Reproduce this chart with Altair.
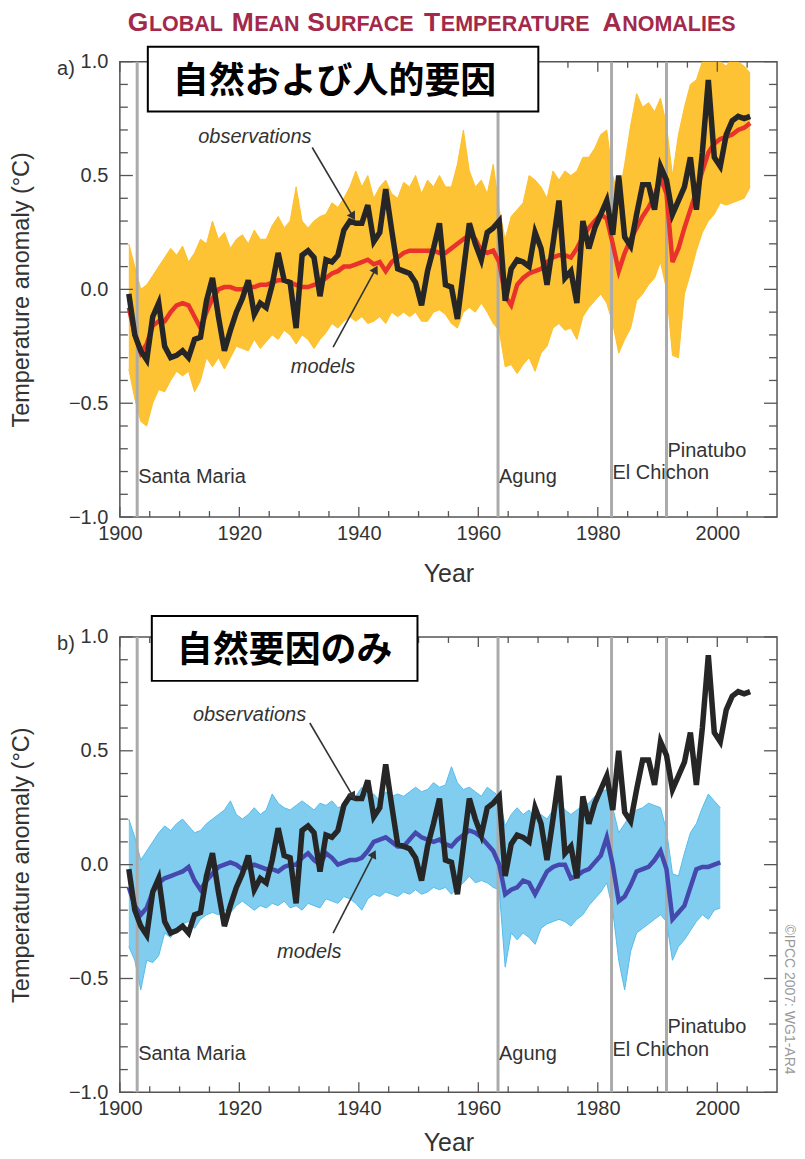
import math
import altair as alt
import pandas as pd

# ---------------- data ----------------
years_a = list(range(1901, 2006))
obs = [
    -0.02, -0.20, -0.27, -0.31, -0.12, -0.06, -0.25, -0.30, -0.29, -0.27,
    -0.30, -0.22, -0.21, -0.05, 0.05, -0.12, -0.27, -0.18, -0.10, -0.04,
    0.04, -0.11, -0.06, -0.08, 0.02, 0.16, 0.04, 0.03, -0.17, 0.15,
    0.17, 0.14, -0.03, 0.13, 0.12, 0.15, 0.26, 0.30, 0.29, 0.29,
    0.37, 0.21, 0.25, 0.44, 0.26, 0.09, 0.08, 0.07, 0.03, -0.07,
    0.08, 0.18, 0.29, 0.02, 0.01, -0.13, 0.08, 0.29, 0.20, 0.13,
    0.25, 0.27, 0.30, -0.05, 0.09, 0.13, 0.12, 0.10, 0.25, 0.18,
    0.02, 0.20, 0.39, 0.05, 0.08, -0.06, 0.30, 0.18, 0.27, 0.33,
    0.39, 0.24, 0.50, 0.23, 0.19, 0.33, 0.46, 0.46, 0.35, 0.54,
    0.48, 0.33, 0.39, 0.45, 0.58, 0.35, 0.60, 0.92, 0.58, 0.54,
    0.68, 0.74, 0.76, 0.75, 0.76,
]
mean_a = [
    -0.08, -0.20, -0.28, -0.24, -0.16, -0.14, -0.14, -0.10, -0.07, -0.06,
    -0.07, -0.12, -0.17, -0.10, -0.04, 0.00, 0.01, 0.01, 0.00, 0.00,
    0.01, 0.01, 0.02, 0.02, 0.03, 0.04, 0.04, 0.03, 0.02, 0.01,
    0.01, 0.02, 0.03, 0.05, 0.07, 0.08, 0.10, 0.10, 0.11, 0.12,
    0.13, 0.11, 0.12, 0.08, 0.12, 0.14, 0.16, 0.17, 0.17, 0.17,
    0.17, 0.17, 0.16, 0.16, 0.18, 0.20, 0.22, 0.24, 0.22, 0.17,
    0.16, 0.17, 0.12, -0.03, -0.07, 0.02, 0.05, 0.07, 0.08, 0.09,
    0.12, 0.14, 0.15, 0.15, 0.14, 0.18, 0.23, 0.27, 0.30, 0.33,
    0.31, 0.20, 0.08, 0.16, 0.22, 0.27, 0.32, 0.36, 0.41, 0.49,
    0.42, 0.12, 0.18, 0.27, 0.35, 0.43, 0.52, 0.60, 0.64, 0.66,
    0.67, 0.68, 0.70, 0.71, 0.73,
]
upper_a = [
    0.20, 0.10, 0.00, 0.02, 0.06, 0.10, 0.14, 0.18, 0.15, 0.19,
    0.12, 0.16, 0.22, 0.20, 0.30, 0.22, 0.25, 0.18, 0.22, 0.24,
    0.20, 0.26, 0.22, 0.22, 0.28, 0.32, 0.27, 0.30, 0.45, 0.30,
    0.27, 0.30, 0.32, 0.33, 0.38, 0.36, 0.40, 0.45, 0.52, 0.45,
    0.50, 0.40, 0.45, 0.48, 0.42, 0.40, 0.47, 0.45, 0.50, 0.42,
    0.48, 0.45, 0.50, 0.45, 0.45, 0.55, 0.70, 0.52, 0.45, 0.48,
    0.42, 0.55, 0.35, 0.22, 0.32, 0.35, 0.38, 0.50, 0.48, 0.45,
    0.40, 0.52, 0.48, 0.52, 0.50, 0.52, 0.58, 0.58, 0.62, 0.68,
    0.70, 0.50, 0.40, 0.55, 0.72, 0.86, 0.80, 0.82, 0.78, 0.84,
    0.72, 0.50, 0.68, 0.80, 0.90, 0.92, 1.00, 1.05, 1.02, 1.00,
    0.98, 1.02, 1.00, 0.98, 0.95,
]
lower_a = [
    -0.35, -0.48, -0.58, -0.60, -0.50, -0.44, -0.45, -0.40, -0.36, -0.38,
    -0.36, -0.45, -0.40, -0.30, -0.34, -0.30, -0.35, -0.30, -0.25, -0.26,
    -0.27, -0.22, -0.26, -0.23, -0.20, -0.22, -0.18, -0.20, -0.24, -0.20,
    -0.22, -0.26, -0.22, -0.19, -0.15, -0.17, -0.14, -0.12, -0.14, -0.12,
    -0.15, -0.14, -0.12, -0.15, -0.10, -0.12, -0.10, -0.12, -0.10, -0.14,
    -0.14, -0.10, -0.09, -0.11, -0.15, -0.17, -0.10, -0.08, -0.10, -0.06,
    -0.10, -0.15, -0.18, -0.34, -0.33, -0.37, -0.33, -0.30, -0.36, -0.28,
    -0.25, -0.17, -0.15, -0.18, -0.17, -0.22, -0.12, -0.08, -0.05, -0.02,
    -0.06, -0.15, -0.28, -0.22, -0.17, -0.05, -0.02, 0.02, 0.05, 0.12,
    0.00, -0.29, -0.30, -0.02, 0.07, 0.17, 0.25, 0.30, 0.33, 0.38,
    0.37, 0.38, 0.39, 0.40, 0.45,
]

years_b = list(range(1901, 2001))
mean_b = [
    -0.10, -0.18, -0.22, -0.19, -0.12, -0.08, -0.06, -0.05, -0.04, -0.03,
    -0.01, -0.07, -0.11, -0.07, -0.04, -0.01, 0.00, 0.01, 0.00, -0.02,
    -0.01, 0.00, -0.01, -0.02, -0.02, -0.03, -0.01, 0.00, 0.00, 0.03,
    0.05, 0.02, 0.00, 0.05, 0.03, 0.00, 0.01, 0.02, 0.02, 0.03,
    0.06, 0.10, 0.11, 0.12, 0.10, 0.08, 0.08, 0.11, 0.14, 0.12,
    0.11, 0.10, 0.11, 0.09, 0.08, 0.11, 0.13, 0.15, 0.14, 0.12,
    0.09, 0.06, 0.00, -0.13, -0.11, -0.10, -0.07, -0.08, -0.13, -0.08,
    -0.03, -0.01, 0.00, 0.00, -0.06, -0.05, -0.03, -0.02, 0.01, 0.04,
    0.12, 0.00, -0.16, -0.14, -0.09, -0.03, -0.02, -0.01, 0.02, 0.06,
    -0.02, -0.24, -0.21, -0.18, -0.10, -0.02, -0.01, -0.01, 0.00, 0.01,
]
upper_b = [
    0.20, 0.12, 0.02, 0.06, 0.10, 0.14, 0.17, 0.15, 0.18, 0.20,
    0.17, 0.14, 0.15, 0.18, 0.20, 0.22, 0.24, 0.28, 0.22, 0.20,
    0.22, 0.25, 0.22, 0.24, 0.31, 0.27, 0.25, 0.24, 0.26, 0.28,
    0.26, 0.24, 0.27, 0.26, 0.28, 0.25, 0.26, 0.28, 0.30, 0.34,
    0.30, 0.31, 0.28, 0.32, 0.30, 0.31, 0.30, 0.32, 0.34, 0.32,
    0.33, 0.36, 0.34, 0.35, 0.43, 0.36, 0.33, 0.34, 0.32, 0.30,
    0.34, 0.32, 0.30, 0.17, 0.22, 0.25, 0.22, 0.24, 0.20, 0.22,
    0.20, 0.24, 0.28, 0.24, 0.22, 0.24, 0.26, 0.27, 0.30, 0.32,
    0.33, 0.25, 0.14, 0.18, 0.22, 0.24, 0.25, 0.27, 0.26, 0.25,
    0.15, -0.04, -0.05, 0.05, 0.14, 0.18, 0.25, 0.31, 0.28, 0.25,
]
lower_b = [
    -0.36, -0.42, -0.55, -0.42, -0.43, -0.40, -0.30, -0.32, -0.28, -0.26,
    -0.25, -0.28, -0.24, -0.22, -0.21, -0.22, -0.20, -0.21, -0.18, -0.16,
    -0.18, -0.20, -0.18, -0.19, -0.17, -0.18, -0.16, -0.19, -0.18, -0.20,
    -0.17, -0.18, -0.19, -0.15, -0.16, -0.17, -0.14, -0.15, -0.17, -0.20,
    -0.15, -0.13, -0.14, -0.12, -0.13, -0.14, -0.12, -0.13, -0.11, -0.13,
    -0.12, -0.10, -0.11, -0.10, -0.13, -0.10, -0.08, -0.05, -0.08, -0.07,
    -0.08, -0.10, -0.11, -0.45, -0.30, -0.33, -0.30, -0.32, -0.35, -0.28,
    -0.26, -0.25, -0.24, -0.25, -0.27, -0.24, -0.22, -0.18, -0.15, -0.12,
    -0.08, -0.20, -0.42, -0.55, -0.38, -0.30, -0.28, -0.26, -0.24, -0.22,
    -0.25, -0.42, -0.36, -0.33, -0.29, -0.25, -0.22, -0.24, -0.20, -0.19,
]

volcano_names = ["Santa Maria", "Agung", "El Chichon", "Pinatubo"]
volcano_years = [1902.9, 1963.3, 1982.3, 1991.5]

x_major = [1900, 1920, 1940, 1960, 1980, 2000]
x_minor = [1905, 1910, 1915, 1925, 1930, 1935, 1945, 1950, 1955,
           1965, 1970, 1975, 1985, 1990, 1995, 2005]
y_major = [-1.0, -0.5, 0.0, 0.5, 1.0]
y_minor = [-0.9, -0.8, -0.7, -0.6, -0.4, -0.3, -0.2, -0.1,
           0.1, 0.2, 0.3, 0.4, 0.6, 0.7, 0.8, 0.9]

title_words = ["GLOBAL", "MEAN", "SURFACE", "TEMPERATURE", "ANOMALIES"]

# ---------------- styling ----------------
W, H = 658, 456
XDOM = [1900, 2010]
YDOM = [-1.0, 1.0]
FONT = "Liberation Sans"
TXT = "#333333"
xs = alt.Scale(domain=XDOM, nice=False, zero=False)
ys = alt.Scale(domain=YDOM, nice=False, zero=False)
PXY = W / (XDOM[1] - XDOM[0])
PXV = H / (YDOM[1] - YDOM[0])


def make_xaxis(title_pad):
    return alt.Axis(values=x_major, format="d", ticks=False, domain=False, grid=False,
                    labelFontSize=20, labelColor=TXT, labelFont=FONT, labelPadding=6,
                    labelFlush=False,
                    title="Year", titleFontSize=25, titleFontWeight="normal",
                    titleColor=TXT, titleFont=FONT, titlePadding=title_pad)


YAXIS = alt.Axis(values=y_major, format=".1f", ticks=False, domain=False, grid=False,
                 labelFontSize=20, labelColor=TXT, labelFont=FONT, labelPadding=12,
                 labelFlush=False,
                 title="Temperature anomaly (°C)", titleFontSize=23.5,
                 titleFontWeight="normal", titleColor=TXT, titleFont=FONT,
                 titlePadding=35)


def panel(years, ens_hi, ens_lo, mean, mean_color, ens_color, ens_opacity,
          label, box, jp_text, jp_pos, obs_lbl, obs_arrow, mod_lbl, mod_arrow,
          volc_lbl_y, xtitle_pad, extra=()):
    xaxis = make_xaxis(xtitle_pad)

    def X(f):
        return alt.X(f, scale=xs, axis=xaxis, title="Year")

    def Y(f):
        return alt.Y(f, scale=ys, axis=YAXIS, title="Temperature anomaly (°C)")

    ens = pd.DataFrame({"year": years, "hi": ens_hi, "lo": ens_lo, "m": mean})
    ens["t"] = ens["year"] + 0.5
    ob = pd.DataFrame({"year": years_a, "v": obs})
    ob["t"] = ob["year"] + 0.5
    vol = pd.DataFrame({"name": volcano_names, "yr": volcano_years, "ly": volc_lbl_y})

    band = alt.Chart(ens).mark_area(color=ens_color, opacity=ens_opacity, clip=True).encode(
        x=X("t:Q"), y=Y("lo:Q"), y2="hi:Q")
    edge_hi = alt.Chart(ens).mark_line(color=ens_color, strokeWidth=1, clip=True).encode(
        x=X("t:Q"), y=Y("hi:Q"))
    edge_lo = alt.Chart(ens).mark_line(color=ens_color, strokeWidth=1, clip=True).encode(
        x=X("t:Q"), y=Y("lo:Q"))
    vrules = alt.Chart(vol).mark_rule(color="#ababab", strokeWidth=3).encode(x=X("yr:Q"))
    mline = alt.Chart(ens).mark_line(color=mean_color, strokeWidth=4.5).encode(
        x=X("t:Q"), y=Y("m:Q"))
    oline = alt.Chart(ob).mark_line(color="#262626", strokeWidth=5.5,
                                    strokeJoin="miter").encode(x=X("t:Q"), y=Y("v:Q"))
    vtext = alt.Chart(vol).mark_text(align="left", baseline="middle", font=FONT,
                                     fontSize=20, color=TXT, dx=1).encode(
        x=X("yr:Q"), y=Y("ly:Q"), text="name:N")

    ann = pd.DataFrame({"txt": ["observations", "models"],
                        "x": [obs_lbl[0], mod_lbl[0]], "y": [obs_lbl[1], mod_lbl[1]]})
    anntext = alt.Chart(ann).mark_text(font=FONT, fontSize=20, fontStyle="italic",
                                       color=TXT, baseline="middle").encode(
        x=X("x:Q"), y=Y("y:Q"), text="txt:N")

    def arrow_layers(x0, y0, x1, y1):
        d = pd.DataFrame({"x0": [x0], "y0": [y0], "x1": [x1], "y1": [y1]})
        dx = (x1 - x0) * PXY
        dy = -(y1 - y0) * PXV
        ang = math.degrees(math.atan2(dx, -dy)) % 360
        line = alt.Chart(d).mark_rule(color="#333333", strokeWidth=1.6).encode(
            x=X("x0:Q"), y=Y("y0:Q"), x2="x1:Q", y2="y1:Q")
        head = alt.Chart(d).mark_point(shape="triangle", filled=True, color="#333333",
                                       size=90, opacity=1, angle=ang).encode(
            x=X("x1:Q"), y=Y("y1:Q"))
        return [line, head]

    def tick_layers():
        layers = []
        for vals, ln in ((x_major, 10), (x_minor, 6)):
            d = pd.DataFrame({"v": vals})
            base = alt.Chart(d).mark_rule(color="#555555", strokeWidth=1.3)
            layers.append(base.encode(x=X("v:Q"), y=alt.value(H), y2=alt.value(H - ln)))
            layers.append(base.encode(x=X("v:Q"), y=alt.value(0), y2=alt.value(ln)))
        for vals, ln in ((y_major, 13), (y_minor, 8)):
            d = pd.DataFrame({"v": vals})
            base = alt.Chart(d).mark_rule(color="#555555", strokeWidth=1.3)
            layers.append(base.encode(y=Y("v:Q"), x=alt.value(0), x2=alt.value(ln)))
            layers.append(base.encode(y=Y("v:Q"), x=alt.value(W), x2=alt.value(W - ln)))
        return layers

    lab = pd.DataFrame({"t": [jp_text]})
    rect = alt.Chart(lab).mark_rect(fill="white", stroke="black", strokeWidth=2).encode(
        x=alt.value(box[0]), x2=alt.value(box[1]), y=alt.value(box[2]), y2=alt.value(box[3]))
    jp = alt.Chart(lab).mark_text(font="Noto Sans CJK JP", fontWeight="bold", fontSize=36,
                                  color="black", align="center", baseline="middle").encode(
        x=alt.value(jp_pos[0]), y=alt.value(jp_pos[1]), text="t:N")
    plab = alt.Chart(pd.DataFrame({"t": [label]})).mark_text(
        font=FONT, fontSize=20, color=TXT, align="center", baseline="middle").encode(
        x=alt.value(-54), y=alt.value(7), text="t:N")

    layers = [band, edge_hi, edge_lo, vrules, mline, oline, vtext, anntext]
    layers += arrow_layers(*obs_arrow) + arrow_layers(*mod_arrow)
    layers += tick_layers()
    layers += [rect, jp, plab]
    layers += list(extra)
    return alt.layer(*layers).properties(width=W, height=H)


# title in small caps (large initial letter, smaller rest), Arial-bold widths
WID = {"G": 778, "L": 611, "O": 778, "B": 722, "A": 722, "M": 833, "E": 667, "N": 722,
       "S": 667, "U": 722, "R": 722, "F": 611, "C": 722, "T": 611, "P": 667, "I": 278,
       " ": 278}
BIG, SMALL = 26.5, 21.5
title_layers = []
px = 128 - 120
one = pd.DataFrame({"k": [0]})
for w in title_words:
    first, rest = w[0], w[1:]
    for seg, fs in ((first, BIG), (rest, SMALL)):
        title_layers.append(alt.Chart(one).mark_text(
            font=FONT, fontWeight="bold", fontSize=fs, color="#A3294B",
            align="left", baseline="alphabetic").encode(
            x=alt.value(px), y=alt.value(-31), text=alt.value(seg)))
        px += sum(WID[c] for c in seg) * fs / 1000.0 + 0.55 * len(seg)
    px += WID[" "] * SMALL / 1000.0

copy_layer = alt.Chart(one).mark_text(font=FONT, fontSize=14, color="#9a9a9a", angle=90,
                                      align="center", baseline="middle").encode(
    x=alt.value(670), y=alt.value(363), text=alt.value("©IPCC 2007: WG1-AR4"))

pa = panel(years_a, upper_a, lower_a, mean_a, "#E8322B", "#FDC02A", 0.95, "a)",
           (28, 419, -15, 50), "自然および人的要因", (215, 20),
           (1922.6, 0.667), (1932.2, 0.623, 1938.9, 0.325),
           (1934.0, -0.342), (1935.7, -0.254, 1942.7, 0.083),
           [-0.825, -0.825, -0.807, -0.71], 18, extra=title_layers)

pb = panel(years_b, upper_b, lower_b, mean_b, "#4549AE", "#55BCEB", 0.75, "b)",
           (32, 298, -21, 44), "自然要因のみ", (165, 14),
           (1921.7, 0.657), (1931.8, 0.622, 1938.9, 0.305),
           (1931.7, -0.385), (1935.7, -0.301, 1942.4, 0.042),
           [-0.83, -0.83, -0.815, -0.715], 12, extra=[copy_layer])

chart = alt.vconcat(pa, pb, spacing=120, bounds="flush").configure_view(
    stroke="#555555", strokeWidth=1.5).properties(
    background="white", padding={"left": 0, "top": 0, "right": 0, "bottom": 0})

chart.save("out.html", embed_options={"renderer": "svg", "actions": False})
